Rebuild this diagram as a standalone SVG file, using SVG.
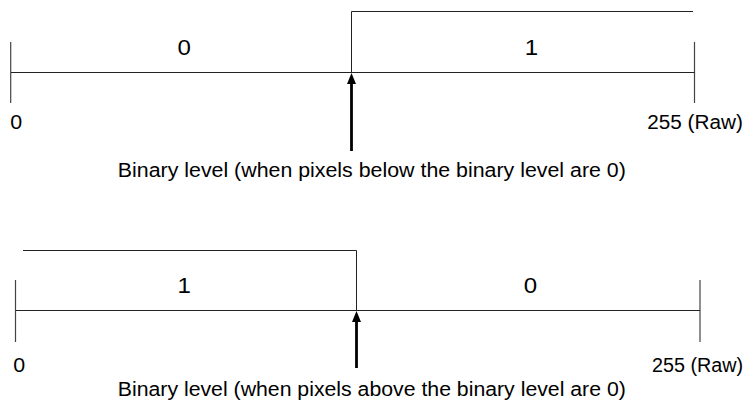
<svg xmlns="http://www.w3.org/2000/svg" width="753" height="400" viewBox="0 0 753 400">
<style>
.ln{stroke:#222;stroke-width:1;fill:none}
.tk{stroke:#444;stroke-width:1.2;fill:none}
.ar{stroke:#000;stroke-width:2.8;fill:none}
text{font-family:"Liberation Sans",Arial,sans-serif;font-size:20px;fill:#000}
.c{text-anchor:middle}
.m{font-size:21.5px}
</style>
<defs>
<marker id="ah" markerUnits="userSpaceOnUse" markerWidth="11" markerHeight="9" refX="3" refY="4.5" orient="auto" viewBox="0 0 11 9">
<path d="M0 0 L11 4.5 L0 9 Z" fill="#000"/>
</marker>
</defs>
<g id="top-scale">
<line class="tk" x1="10.7" y1="42" x2="10.7" y2="103"/>
<line class="tk" x1="694.5" y1="42" x2="694.5" y2="103"/>
<line class="ln" x1="11" y1="72.5" x2="694.5" y2="72.5"/>
<path class="ln" d="M351.5 72.5 V11.5 H693"/>
<text class="c m" x="0" y="55" transform="matrix(1.12 0 0 1 184.3 0)">0</text>
<text class="c m" x="0" y="55" transform="matrix(1.12 0 0 1 531.5 0)">1</text>
<text class="c" x="0" y="129" transform="matrix(1.07 0 0 1 16.3 0)">0</text>
<text x="647.3" y="129" textLength="95.5" lengthAdjust="spacingAndGlyphs">255 (Raw)</text>
<text x="117.8" y="177" textLength="508" lengthAdjust="spacingAndGlyphs">Binary level (when pixels below the binary level are 0)</text>
</g>
<g id="bottom-scale">
<line class="tk" x1="15.5" y1="280" x2="15.5" y2="342"/>
<line class="tk" x1="700" y1="280" x2="700" y2="342"/>
<line class="ln" x1="16" y1="310.5" x2="700" y2="310.5"/>
<path class="ln" d="M23 250.5 H356.5 V310.5"/>
<text class="c m" x="0" y="293" transform="matrix(1.12 0 0 1 184.3 0)">1</text>
<text class="c m" x="0" y="293" transform="matrix(1.12 0 0 1 530.5 0)">0</text>
<text class="c" x="0" y="372" transform="matrix(1.07 0 0 1 19.2 0)">0</text>
<text x="652" y="372" textLength="91" lengthAdjust="spacingAndGlyphs">255 (Raw)</text>
<text x="117.8" y="396" textLength="508" lengthAdjust="spacingAndGlyphs">Binary level (when pixels above the binary level are 0)</text>
</g>
<g id="connectors">
<line class="ar" x1="351.5" y1="151" x2="351.5" y2="81" marker-end="url(#ah)"/>
<line class="ar" x1="356.5" y1="368" x2="356.5" y2="319" marker-end="url(#ah)"/>
</g>
</svg>
